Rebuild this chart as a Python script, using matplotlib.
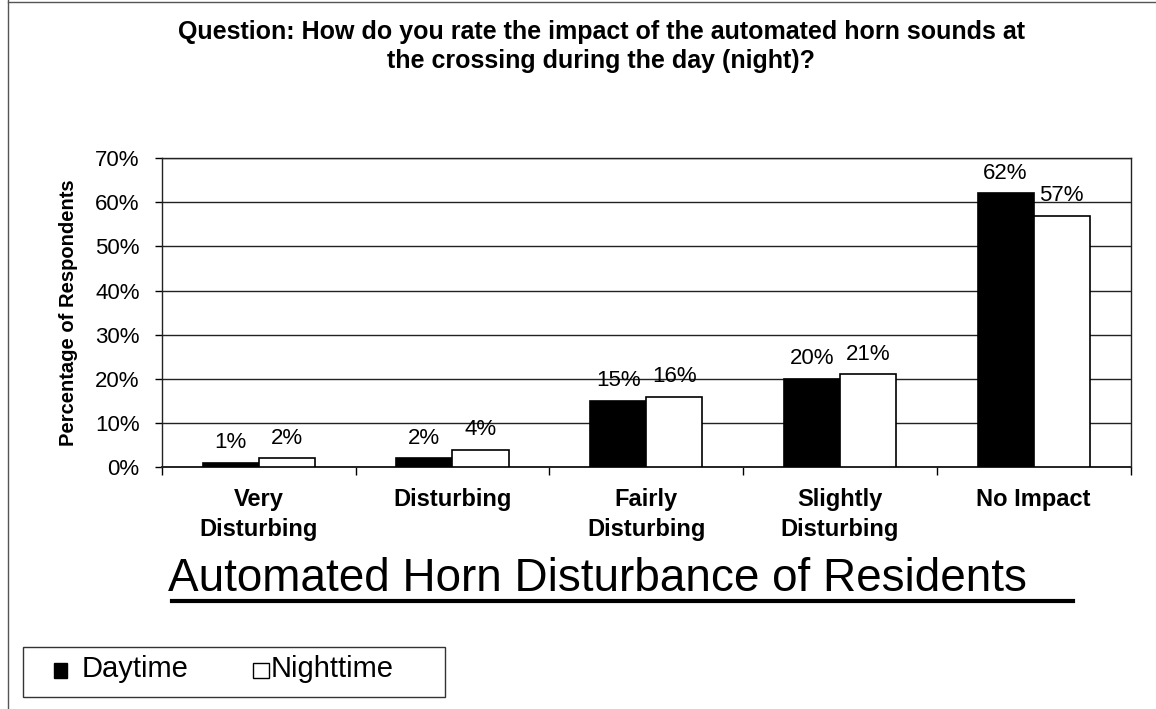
import numpy as np
import matplotlib.pyplot as plt
from matplotlib.patches import Rectangle
from matplotlib.lines import Line2D

plt.rcParams['font.family'] = ['Liberation Sans', 'DejaVu Sans']

# data
categories = ['Very\nDisturbing', 'Disturbing', 'Fairly\nDisturbing', 'Slightly\nDisturbing', 'No Impact']
daytime = [1, 2, 15, 20, 62]
nighttime = [2, 4, 16, 21, 57]
yticks = [0, 10, 20, 30, 40, 50, 60, 70]

fig = plt.figure(figsize=(11.56, 7.09), dpi=100)
ax = fig.add_axes([0.140, 0.341, 0.838, 0.436])

x = np.arange(len(categories))
w = 0.29
b1 = ax.bar(x - w/2, daytime, w, color='black', edgecolor='black', linewidth=1.2, zorder=3)
b2 = ax.bar(x + w/2, nighttime, w, color='white', edgecolor='black', linewidth=1.2, zorder=3)

for bars, vals in ((b1, daytime), (b2, nighttime)):
    for rect, v in zip(bars, vals):
        ax.annotate(f'{v}%', (rect.get_x() + rect.get_width()/2, v), xytext=(0, 7),
                    textcoords='offset points', ha='center', va='bottom', fontsize=16)

ax.set_xlim(-0.5, len(categories) - 0.5)
ax.set_ylim(0, 70)
ax.set_yticks(yticks)
ax.set_yticklabels([f'{t}%' for t in yticks], fontsize=16)
ax.yaxis.grid(True, color='#222222', linewidth=1.0, zorder=0)
ax.tick_params(axis='y', length=5, width=1, direction='out', pad=11)

# tick marks at group boundaries, labels at centers
ax.set_xticks(np.arange(len(categories) + 1) - 0.5)
ax.set_xticklabels([])
ax.tick_params(axis='x', length=6, width=1, direction='out')
for i, c in enumerate(categories):
    ax.text(i, -4.6, c, ha='center', va='top', fontsize=17, fontweight='bold',
            linespacing=1.42)

for s in ax.spines.values():
    s.set_color('#222222')
    s.set_linewidth(1.0)
ax.spines['bottom'].set_linewidth(1.4)

ax.set_ylabel('Percentage of Respondents', fontsize=14.5, fontweight='bold', labelpad=12)

fig.text(0.52, 0.972, 'Question: How do you rate the impact of the automated horn sounds at\nthe crossing during the day (night)?',
         ha='center', va='top', fontsize=18, fontweight='bold', linespacing=1.25)

fig.text(0.517, 0.183, 'Automated Horn Disturbance of Residents', ha='center', va='center', fontsize=33)
fig.add_artist(Line2D([0.149, 0.928], [0.152, 0.152], color='black', linewidth=3))

# legend box
fig.add_artist(Rectangle((0.020, 0.017), 0.365, 0.071, transform=fig.transFigure,
                         facecolor='white', edgecolor='#333333', linewidth=1))
fig.add_artist(Rectangle((0.047, 0.044), 0.011, 0.021, transform=fig.transFigure,
                         facecolor='black', edgecolor='black', linewidth=1))
fig.text(0.071, 0.056, 'Daytime', ha='left', va='center', fontsize=21)
fig.add_artist(Rectangle((0.219, 0.044), 0.014, 0.021, transform=fig.transFigure,
                         facecolor='white', edgecolor='black', linewidth=1))
fig.text(0.234, 0.056, 'Nighttime', ha='left', va='center', fontsize=21)

# page border from scan (left and top edges)
fig.add_artist(Line2D([0.007, 0.007], [0.0, 1.0], color='#555555', linewidth=1))
fig.add_artist(Line2D([0.007, 1.0], [0.997, 0.997], color='#555555', linewidth=1))

fig.savefig('out.png', dpi=100)
